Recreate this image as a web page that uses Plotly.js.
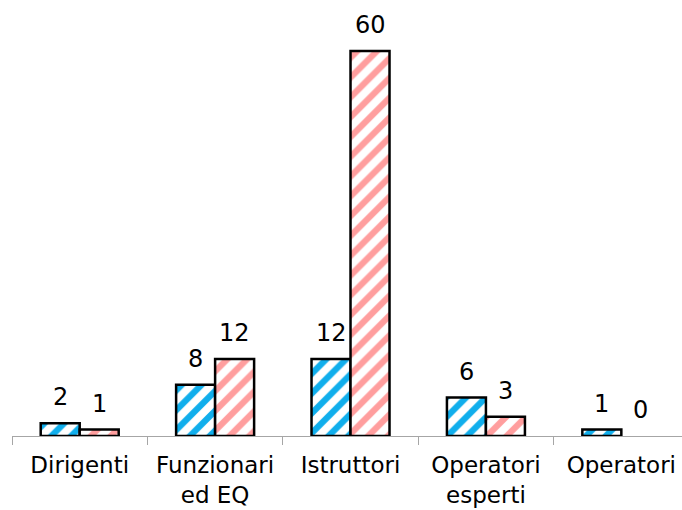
<!DOCTYPE html>
<html><head><meta charset="utf-8">
<script src="https://cdn.plot.ly/plotly-3.0.1.min.js"></script>
<style>html,body{margin:0;padding:0;background:#fff}</style>
</head><body>
<div id="chart" style="width:682px;height:510px"></div>
<script>
const categories = ["Dirigenti", "Funzionari<br>ed EQ", "Istruttori", "Operatori<br>esperti", "Operatori"];
const seriesA = [2, 8, 12, 6, 1];
const seriesB = [1, 12, 60, 3, 0];

const blue = "#10AEEC";
const pink = "#FF9E9E";

function barTrace(vals, color, off) {
  return {
    type: "bar", x: categories, y: vals, offsetgroup: off,
    marker: {
      color: "#ffffff",
      line: {color: "#000000", width: vals.map(v => v === 0 ? 0 : 2.5)},
      pattern: {shape: "/", fgcolor: color, bgcolor: "#ffffff", fgopacity: 1, size: 14, solidity: 0.45, fillmode: "replace"}
    },
    hoverinfo: "none"
  };
}

const annotations = [];
[[seriesA, -19.5], [seriesB, 19.5]].forEach(([vals, xs]) => {
  vals.forEach((v, i) => {
    annotations.push({
      x: categories[i], y: v, xref: "x", yref: "y", text: String(v),
      showarrow: false, xshift: xs, yshift: 10, yanchor: "bottom",
      font: {family: "DejaVu Sans, Verdana, sans-serif", size: 24, color: "#000"}
    });
  });
});

const layout = {
  width: 682, height: 510,
  margin: {l: 12, r: 0, t: 20, b: 74},
  paper_bgcolor: "#fff", plot_bgcolor: "#fff",
  barmode: "group", bargap: 0.424, bargroupgap: 0,
  showlegend: false,
  font: {family: "DejaVu Sans, Verdana, sans-serif", color: "#000"},
  xaxis: {
    type: "category", range: [-0.5, 4.448], tickson: "boundaries",
    ticks: "outside", ticklen: 8, tickcolor: "#A6A6A6", tickwidth: 1,
    showline: true, linecolor: "#A6A6A6", linewidth: 1,
    showgrid: false, zeroline: false,
    ticklabelstandoff: 8,
    tickfont: {size: 23, color: "#000"}
  },
  yaxis: {range: [0, 64.83], visible: false, showgrid: false, zeroline: false},
  annotations: annotations
};

Plotly.newPlot("chart", [barTrace(seriesA, blue, "a"), barTrace(seriesB, pink, "b")], layout, {displayModeBar: false, staticPlot: true});
</script>
</body></html>
